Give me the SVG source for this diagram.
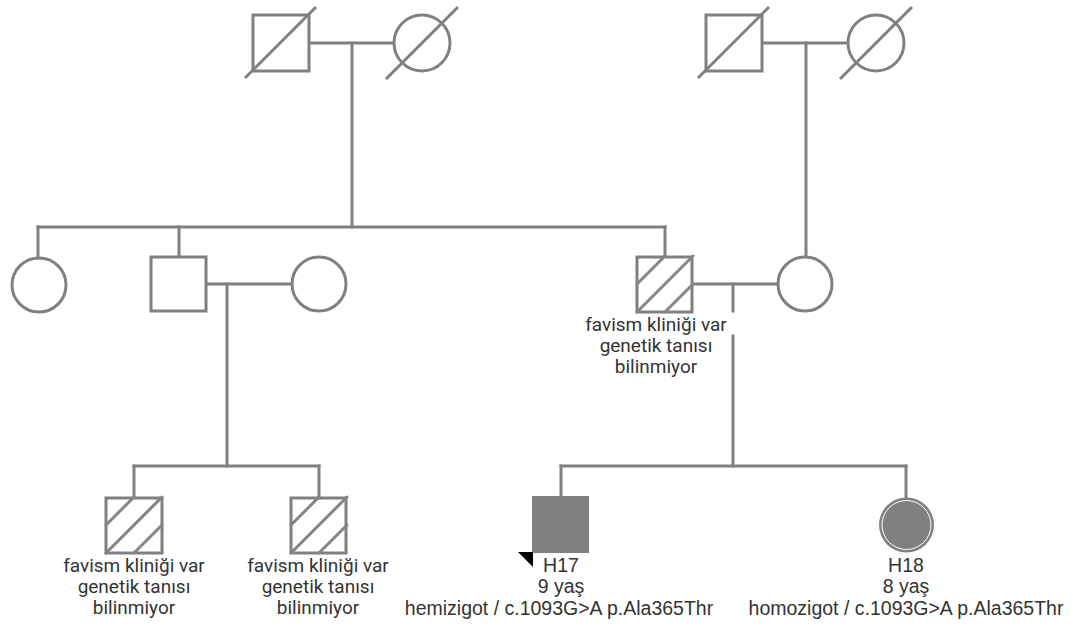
<svg xmlns="http://www.w3.org/2000/svg" width="1073" height="631" viewBox="0 0 1073 631">
<style>
.ln{stroke:#808080;stroke-width:3;fill:none;stroke-linecap:square}
.nd{stroke:#808080;stroke-width:3;fill:#ffffff}
.ht{stroke:#858585;stroke-width:3;fill:none;stroke-linecap:round}
.ds{stroke:#808080;stroke-width:3;fill:none}
.lbl{font-family:Roboto,"Liberation Sans",sans-serif;font-size:19px;fill:#333333;text-anchor:middle}
.lbl2{font-family:"Liberation Sans",Arial,sans-serif;font-size:19.5px;fill:#333333;text-anchor:middle}
</style>
<defs>
<g id="hatch">
<line class="ht" x1="0" y1="28" x2="28" y2="0"/>
<line class="ht" x1="0" y1="56" x2="56" y2="0"/>
<line class="ht" x1="28" y1="56" x2="56" y2="28"/>
</g>
</defs>
<g id="connectors">
<line class="ln" x1="309" y1="43" x2="394" y2="43"/>
<line class="ln" x1="352" y1="43" x2="352" y2="227"/>
<line class="ln" x1="762" y1="43" x2="848" y2="43"/>
<line class="ln" x1="806" y1="43" x2="806" y2="257"/>
<line class="ln" x1="38" y1="227" x2="665" y2="227"/>
<line class="ln" x1="38" y1="227" x2="38" y2="257"/>
<line class="ln" x1="179" y1="227" x2="179" y2="256"/>
<line class="ln" x1="665" y1="227" x2="665" y2="256"/>
<line class="ln" x1="207" y1="284" x2="292" y2="284"/>
<line class="ln" x1="227" y1="284" x2="227" y2="466"/>
<line class="ln" x1="134" y1="466" x2="319" y2="466"/>
<line class="ln" x1="134" y1="466" x2="134" y2="497"/>
<line class="ln" x1="319" y1="466" x2="319" y2="497"/>
<line class="ln" x1="693" y1="284" x2="778" y2="284"/>
<line class="ln" x1="733" y1="284" x2="733" y2="311"/>
<line class="ln" x1="733" y1="336" x2="733" y2="466"/>
<line class="ln" x1="561" y1="466" x2="906" y2="466"/>
<line class="ln" x1="561" y1="466" x2="561" y2="496"/>
<line class="ln" x1="906" y1="466" x2="906" y2="497"/>
</g>
<g id="gf1">
<rect class="nd" x="253" y="15" width="56" height="56"/>
<line class="ds" x1="245" y1="78" x2="316" y2="7"/>
</g>
<g id="gm1">
<circle class="nd" cx="422" cy="43" r="28"/>
<line class="ds" x1="386" y1="79" x2="458" y2="7"/>
</g>
<g id="gf2">
<rect class="nd" x="706" y="15" width="56" height="56"/>
<line class="ds" x1="698" y1="78" x2="769" y2="7"/>
</g>
<g id="gm2">
<circle class="nd" cx="876" cy="43" r="28"/>
<line class="ds" x1="840" y1="79" x2="912" y2="7"/>
</g>
<g id="aunt">
<circle class="nd" cx="39" cy="285" r="27"/>
</g>
<g id="uncle">
<rect class="nd" x="151" y="257" width="55" height="54"/>
</g>
<g id="uncle-wife">
<circle class="nd" cx="319" cy="284" r="27"/>
</g>
<g id="father">
<rect class="nd" x="637" y="257" width="55" height="55"/>
<use href="#hatch" x="637" y="256"/>
<text class="lbl" x="656" y="331">favism kliniği var</text>
<text class="lbl" x="656" y="352">genetik tanısı</text>
<text class="lbl" x="656" y="373">bilinmiyor</text>
</g>
<g id="mother">
<circle class="nd" cx="805" cy="284" r="27"/>
</g>
<g id="cousin1">
<rect class="nd" x="106" y="498" width="56" height="55"/>
<use href="#hatch" x="106" y="497"/>
<text class="lbl" x="134" y="572">favism kliniği var</text>
<text class="lbl" x="134" y="593">genetik tanısı</text>
<text class="lbl" x="134" y="614">bilinmiyor</text>
</g>
<g id="cousin2">
<rect class="nd" x="291" y="498" width="55" height="55"/>
<use href="#hatch" x="291" y="497"/>
<text class="lbl" x="318" y="572">favism kliniği var</text>
<text class="lbl" x="318" y="593">genetik tanısı</text>
<text class="lbl" x="318" y="614">bilinmiyor</text>
</g>
<g id="H17">
<rect x="532" y="496" width="57" height="57" fill="#808080"/>
<polygon points="518,552 533,552 533,567" fill="#000000"/>
<text class="lbl2" x="561" y="572">H17</text>
<text class="lbl2" x="561" y="593">9 yaş</text>
<text class="lbl2" x="559" y="615">hemizigot / c.1093G&gt;A p.Ala365Thr</text>
</g>
<g id="H18">
<circle cx="906.5" cy="525" r="27.5" fill="#808080"/>
<circle cx="906.5" cy="525" r="24.5" fill="none" stroke="#ffffff" stroke-width="1"/>
<text class="lbl2" x="906" y="572">H18</text>
<text class="lbl2" x="906" y="593">8 yaş</text>
<text class="lbl2" x="906" y="615">homozigot / c.1093G&gt;A p.Ala365Thr</text>
</g>
</svg>
